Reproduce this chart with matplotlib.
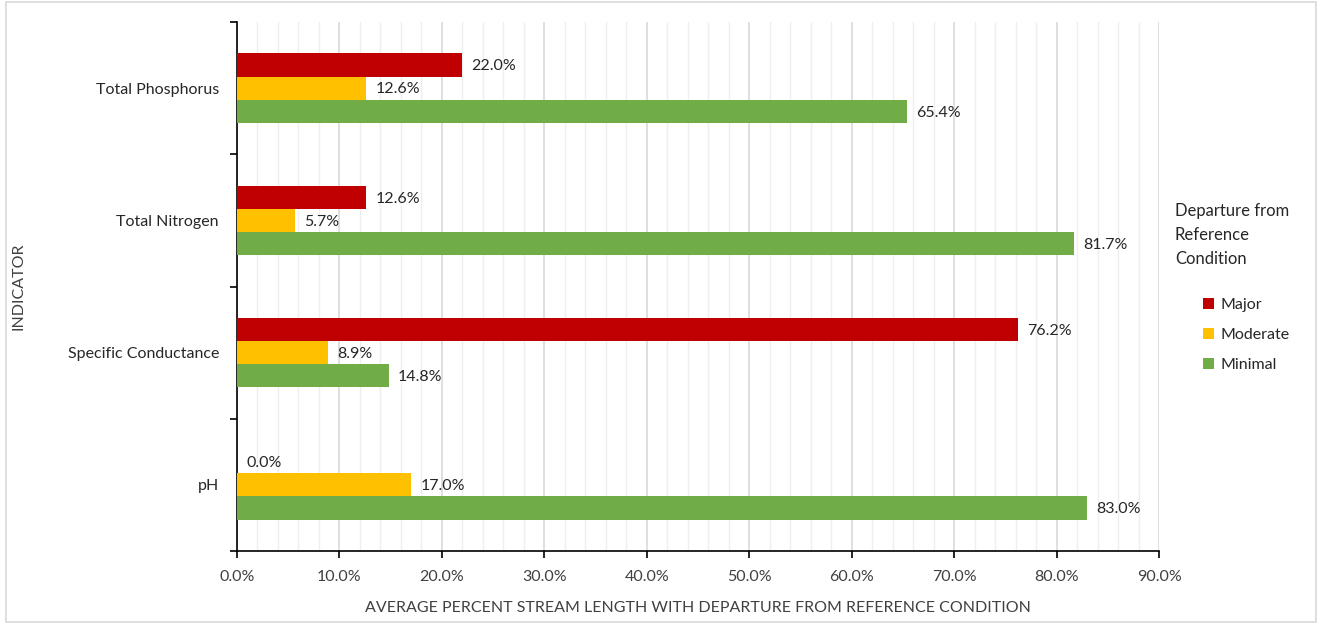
import matplotlib.pyplot as plt
import numpy as np
from matplotlib.ticker import MultipleLocator, PercentFormatter
from matplotlib.patches import Rectangle

plt.rcParams['font.family'] = ['Lato', 'DejaVu Sans']

# data
indicators = ["pH", "Specific Conductance", "Total Nitrogen", "Total Phosphorus"]
major = [0.0, 76.2, 12.6, 22.0]
moderate = [17.0, 8.9, 5.7, 12.6]
minimal = [83.0, 14.8, 81.7, 65.4]
series_names = ["Major", "Moderate", "Minimal"]
colors = ["#c00000", "#ffc000", "#70ad47"]

fig = plt.figure(figsize=(13.2, 6.24), dpi=100)
ax = fig.add_axes([237/1320, 1 - 551/624, (1159-237)/1320, (551-22)/624])

# light frame around the chart
fig.patches.append(Rectangle((6/1320, 2/624), 1310/1320, 620/624, transform=fig.transFigure,
                             fill=False, edgecolor="#d9d9d9", linewidth=1.2))

y = np.arange(len(indicators))
h = 0.175
offsets = [h, 0, -h]
for vals, name, col, off in zip([major, moderate, minimal], series_names, colors, offsets):
    bars = ax.barh(y + off, vals, height=h, color=col, label=name, zorder=3)
    for b, v in zip(bars, vals):
        ax.text(v + 0.9, b.get_y() + b.get_height()/2 - 0.01, f"{v:.1f}%", va="center", ha="left",
                fontsize=11.5, color="#262626", zorder=4)

ax.set_xlim(0, 90)
ax.set_ylim(-0.5, len(indicators) - 0.5)
ax.xaxis.set_major_locator(MultipleLocator(10))
ax.xaxis.set_minor_locator(MultipleLocator(2))
ax.xaxis.set_major_formatter(PercentFormatter(decimals=1))
ax.grid(axis="x", which="major", color="#d9d9d9", linewidth=1.2, zorder=0)
ax.grid(axis="x", which="minor", color="#efefef", linewidth=1.0, zorder=0)
ax.tick_params(axis="x", which="minor", length=0)
ax.tick_params(axis="x", which="major", direction="out", length=5, width=1.2,
               labelsize=11.5, labelcolor="#404040", pad=9)

# category ticks at group boundaries
ax.set_yticks(y)
ax.set_yticklabels(indicators, fontsize=11.5, color="#262626")
ax.tick_params(axis="y", which="major", length=0, pad=13)
ax.set_yticks(np.arange(-0.5, len(indicators)), minor=True)
ax.tick_params(axis="y", which="minor", direction="out", length=5, width=1.2)

for s in ["top", "right"]:
    ax.spines[s].set_visible(False)
for s in ["left", "bottom"]:
    ax.spines[s].set_linewidth(1.2)
    ax.spines[s].set_color("black")

ax.set_xlabel("AVERAGE PERCENT STREAM LENGTH WITH DEPARTURE FROM REFERENCE CONDITION",
              fontsize=11.5, color="#404040", labelpad=12)
fig.text(12/1320, 1 - 286/624, "INDICATOR", rotation=90, va="center", ha="left",
         fontsize=11.5, color="#404040")

# legend title drawn separately so the entries can sit indented under it
fig.text(1175/1320, 1 - 203/624, "Departure from\nReference\nCondition", ha="left", va="top",
         fontsize=12, color="#262626", linespacing=1.6)
handles, labels = ax.get_legend_handles_labels()
leg = fig.legend(handles, labels, loc="upper left", bbox_to_anchor=(1195/1320, 1 - 290/624),
                 frameon=False, fontsize=11.5, handlelength=0.7, handleheight=0.7,
                 handletextpad=0.4, labelspacing=1.0, borderpad=0)
for t in leg.get_texts():
    t.set_color("#262626")

fig.savefig("out.png", dpi=100)
